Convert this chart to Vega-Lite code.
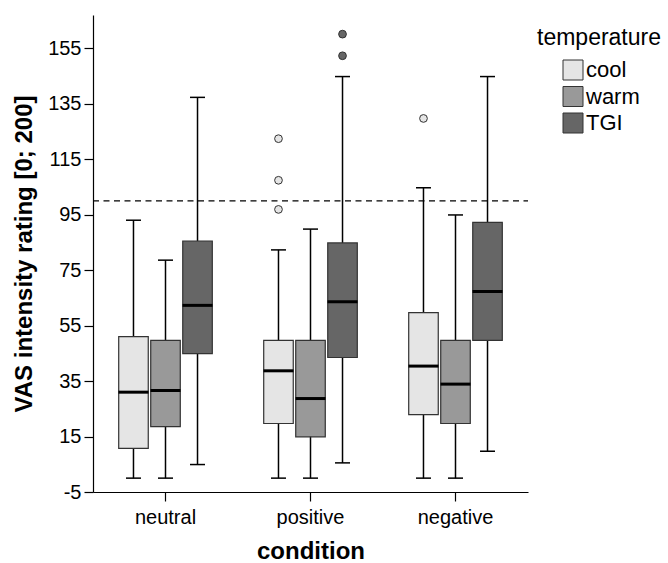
{
  "$schema": "https://vega.github.io/schema/vega-lite/v6.json",
  "width": 435,
  "height": 477,
  "autosize": {"type": "none"},
  "padding": {"left": 93, "top": 15, "right": 140, "bottom": 71},
  "background": "white",
  "config": {
    "view": {"stroke": null},
    "font": "Liberation Sans",
    "axis": {
      "grid": false,
      "domainColor": "black",
      "domainWidth": 1.2,
      "tickColor": "black",
      "tickWidth": 1.2,
      "tickSize": 9,
      "labelColor": "black",
      "labelFont": "Liberation Sans",
      "labelFontSize": 20,
      "titleColor": "black",
      "titleFont": "Liberation Sans",
      "titleFontSize": 24,
      "titleFontWeight": "bold"
    }
  },
  "datasets": {
    "boxes": [
      {"condition": "neutral", "temperature": "cool", "lower": 0, "q1": 10.7, "median": 31, "q3": 51, "upper": 93},
      {"condition": "neutral", "temperature": "warm", "lower": 0, "q1": 18.6, "median": 31.6, "q3": 49.7, "upper": 78.6},
      {"condition": "neutral", "temperature": "TGI", "lower": 4.9, "q1": 44.9, "median": 62.3, "q3": 85.5, "upper": 137.3},
      {"condition": "positive", "temperature": "cool", "lower": 0, "q1": 19.7, "median": 38.7, "q3": 49.7, "upper": 82.3},
      {"condition": "positive", "temperature": "warm", "lower": 0, "q1": 14.9, "median": 28.7, "q3": 49.7, "upper": 89.8},
      {"condition": "positive", "temperature": "TGI", "lower": 5.5, "q1": 43.5, "median": 63.6, "q3": 84.8, "upper": 144.8},
      {"condition": "negative", "temperature": "cool", "lower": 0, "q1": 22.9, "median": 40.4, "q3": 59.7, "upper": 104.7},
      {"condition": "negative", "temperature": "warm", "lower": 0, "q1": 19.7, "median": 33.9, "q3": 49.7, "upper": 94.9},
      {"condition": "negative", "temperature": "TGI", "lower": 9.7, "q1": 49.7, "median": 67.3, "q3": 92.2, "upper": 144.8}
    ],
    "outliers": [
      {"condition": "positive", "temperature": "cool", "value": 96.9},
      {"condition": "positive", "temperature": "cool", "value": 107.4},
      {"condition": "positive", "temperature": "cool", "value": 122.4},
      {"condition": "positive", "temperature": "TGI", "value": 152.3},
      {"condition": "positive", "temperature": "TGI", "value": 160.1},
      {"condition": "negative", "temperature": "cool", "value": 129.7}
    ],
    "reference": [{"value": 100}]
  },
  "encoding": {
    "x": {
      "field": "condition",
      "type": "nominal",
      "sort": ["neutral", "positive", "negative"],
      "scale": {"domain": ["neutral", "positive", "negative"], "paddingInner": 0, "paddingOuter": -0.022},
      "axis": {"title": "condition", "labelAngle": 0, "labelPadding": 6, "titleBaseline": "alphabetic", "titleY": 66}
    },
    "xOffset": {
      "field": "temperature",
      "type": "nominal",
      "sort": ["cool", "warm", "TGI"],
      "scale": {"domain": ["cool", "warm", "TGI"], "paddingInner": 0.077, "paddingOuter": 0.803}
    }
  },
  "layer": [
    {
      "data": {"name": "boxes"},
      "mark": {"type": "rule", "color": "black", "strokeWidth": 1.5, "opacity": 1},
      "encoding": {
        "y": {
          "field": "lower",
          "type": "quantitative",
          "scale": {"domain": [-5, 167], "nice": false, "zero": false},
          "axis": {
            "title": "VAS intensity rating [0; 200]",
            "values": [-5, 15, 35, 55, 75, 95, 115, 135, 155],
            "labelExpr": "toString(datum.value)",
            "labelPadding": 3,
            "titleX": -57
          }
        },
        "y2": {"field": "upper"}
      }
    },
    {
      "data": {"name": "boxes"},
      "mark": {"type": "tick", "color": "black", "size": 15, "thickness": 1.5, "opacity": 1},
      "encoding": {"y": {"field": "lower", "type": "quantitative"}}
    },
    {
      "data": {"name": "boxes"},
      "mark": {"type": "tick", "color": "black", "size": 15, "thickness": 1.5, "opacity": 1},
      "encoding": {"y": {"field": "upper", "type": "quantitative"}}
    },
    {
      "data": {"name": "boxes"},
      "mark": {"type": "bar", "stroke": "#333333", "strokeWidth": 1.2, "opacity": 1},
      "encoding": {
        "y": {"field": "q1", "type": "quantitative"},
        "y2": {"field": "q3"},
        "fill": {
          "field": "temperature",
          "type": "nominal",
          "sort": ["cool", "warm", "TGI"],
          "scale": {"domain": ["cool", "warm", "TGI"], "range": ["#e5e5e5", "#999999", "#666666"]},
          "legend": {
            "title": "temperature",
            "orient": "none",
            "legendX": 444,
            "legendY": 12,
            "padding": 0,
            "titleFont": "Liberation Sans",
            "titleFontSize": 23,
            "titleFontWeight": "normal",
            "titleColor": "black",
            "titlePadding": 9,
            "labelFont": "Liberation Sans",
            "labelFontSize": 22,
            "labelColor": "black",
            "labelOffset": 2,
            "symbolType": "square",
            "symbolSize": 400,
            "symbolOpacity": 1,
            "symbolStrokeColor": "#333333",
            "symbolStrokeWidth": 1,
            "symbolOffset": 25,
            "rowPadding": 2.5
          }
        }
      }
    },
    {
      "data": {"name": "boxes"},
      "mark": {"type": "tick", "color": "black", "size": 30, "thickness": 3, "opacity": 1},
      "encoding": {"y": {"field": "median", "type": "quantitative"}}
    },
    {
      "data": {"name": "outliers"},
      "mark": {"type": "point", "shape": "circle", "filled": true, "size": 60, "opacity": 1, "stroke": "#333333", "strokeWidth": 1},
      "encoding": {
        "y": {"field": "value", "type": "quantitative"},
        "fill": {"field": "temperature", "type": "nominal"}
      }
    },
    {
      "data": {"name": "reference"},
      "mark": {"type": "rule", "color": "black", "strokeWidth": 1.2, "strokeDash": [6, 4.5]},
      "encoding": {
        "y": {"field": "value", "type": "quantitative"},
        "x": {"value": 0},
        "x2": {"value": 435},
        "xOffset": null
      }
    }
  ]
}
